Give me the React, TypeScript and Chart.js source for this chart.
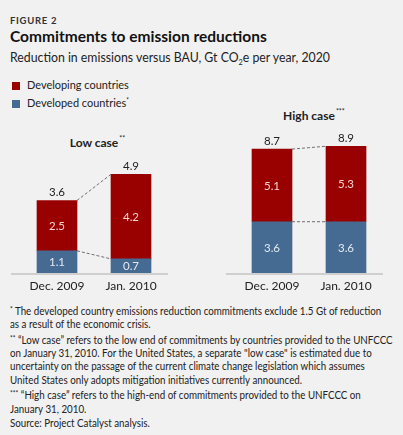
import React, { useEffect, useRef } from 'react';
import { Chart, registerables } from 'chart.js';

Chart.register(...registerables);

// ---- data ----
const categories = ['Dec. 2009', 'Jan. 2010'];
const seriesNames = ['Developed countries', 'Developing countries'];
const lowDeveloped = [1.1, 0.7];
const lowDeveloping = [2.5, 4.2];
const highDeveloped = [3.6, 3.6];
const highDeveloping = [5.1, 5.3];

// ---- style ----
const FONT = 'Lato, "Liberation Sans", sans-serif';
const BG = '#f1f1f1';
const RED = '#990000';
const BLUE = '#466b92';
const INSIDE_COLORS = ['#e2e9f2', '#f5d3d3'];
const TEXT = '#222222';
const LABEL_SIZE = 11.5;

const barDecor = {
  id: 'barDecor',
  beforeDatasetsDraw(chart: any) {
    const { ctx, chartArea } = chart;
    ctx.save();
    ctx.strokeStyle = '#cfcfcf';
    ctx.lineWidth = 2;
    ctx.beginPath();
    ctx.moveTo(0, chartArea.bottom + 1);
    ctx.lineTo(chartArea.right, chartArea.bottom + 1);
    ctx.stroke();
    ctx.restore();
  },
  afterDatasetsDraw(chart: any) {
    const { ctx } = chart;
    const metas = chart.data.datasets.map((_: any, i: number) => chart.getDatasetMeta(i));
    ctx.save();
    ctx.setLineDash([3, 2]);
    ctx.strokeStyle = '#6e6e6e';
    ctx.lineWidth = 1;
    metas.forEach((m: any) => {
      const a = m.data[0];
      const b = m.data[1];
      ctx.beginPath();
      ctx.moveTo(a.x + a.width / 2, a.y);
      ctx.lineTo(b.x - b.width / 2, b.y);
      ctx.stroke();
    });
    ctx.setLineDash([]);
    ctx.font = `${LABEL_SIZE}px ${FONT}`;
    ctx.textAlign = 'center';
    ctx.textBaseline = 'middle';
    metas.forEach((m: any, di: number) => {
      m.data.forEach((el: any, i: number) => {
        const v = chart.data.datasets[di].data[i] as number;
        ctx.fillStyle = INSIDE_COLORS[di];
        ctx.fillText(v.toFixed(1), el.x, (el.y + el.base) / 2 + 0.5);
      });
    });
    const topMeta = metas[metas.length - 1];
    topMeta.data.forEach((el: any, i: number) => {
      const total = chart.data.datasets.reduce((s: number, d: any) => s + (d.data[i] as number), 0);
      ctx.fillStyle = TEXT;
      ctx.fillText(total.toFixed(1), el.x, el.y - 8);
    });
    ctx.restore();
  },
};

function CaseChart({ developed, developing, yMax, left, top }: { developed: number[]; developing: number[]; yMax: number; left: number; top: number }) {
  const ref = useRef<HTMLCanvasElement>(null);
  useEffect(() => {
    const chart = new Chart(ref.current as HTMLCanvasElement, {
      type: 'bar',
      data: {
        labels: categories,
        datasets: [
          { label: seriesNames[0], data: developed, backgroundColor: BLUE, borderWidth: 0 },
          { label: seriesNames[1], data: developing, backgroundColor: RED, borderWidth: 0 },
        ],
      },
      options: {
        responsive: false,
        animation: false,
        events: [],
        layout: { padding: { left: 9, top: 12, right: 0, bottom: 0 } },
        plugins: { legend: { display: false }, tooltip: { enabled: false }, title: { display: false } },
        datasets: { bar: { barThickness: 40 } },
        scales: {
          x: {
            stacked: true,
            grid: { display: false, drawTicks: false },
            border: { display: false },
            ticks: { font: { family: FONT, size: 12 }, color: TEXT, padding: 6 },
            afterFit: (s: any) => {
              s.height = 27;
            },
          },
          y: { stacked: true, display: false, min: 0, max: yMax },
        },
      } as any,
      plugins: [barDecor],
    });
    return () => chart.destroy();
  }, []);
  return (
    <canvas
      ref={ref}
      width={157}
      height={180}
      style={{ position: 'absolute', left, top, width: 157, height: 180 }}
    />
  );
}

function Txt({ x, base, size, weight, color, center, ls, sx = 1, children }: any) {
  const style: React.CSSProperties = {
    position: 'absolute',
    top: base - 0.887 * size,
    left: x,
    fontSize: size,
    lineHeight: `${size}px`,
    whiteSpace: 'nowrap',
    fontWeight: weight ?? 400,
    color: color ?? TEXT,
    letterSpacing: ls,
    transformOrigin: center ? 'center' : 'left',
    transform: `${center ? 'translateX(-50%) ' : ''}scaleX(${sx})`,
  };
  return <div style={style}>{children}</div>;
}

const Star = ({ n, size = 8, raise = 4 }: { n: number; size?: number; raise?: number }) => (
  <span style={{ fontSize: size, position: 'relative', top: -raise }}>{'*'.repeat(n)}</span>
);

const CaseTitle = ({ x, base, text, stars }: { x: number; base: number; text: string; stars: number }) => (
  <Txt x={x} base={base} size={12} weight={700} center>
    <span style={{ position: 'relative' }}>
      {text}
      <span style={{ position: 'absolute', left: '100%', top: -3, fontSize: 7, fontWeight: 400, marginLeft: 1 }}>{'*'.repeat(stars)}</span>
    </span>
  </Txt>
);

export default function App() {
  const fn = 10.5;
  const fsx = 0.93;
  return (
    <div
      style={{
        position: 'absolute',
        left: 0,
        top: 0,
        width: 403,
        height: 435,
        background: BG,
        fontFamily: FONT,
        color: TEXT,
        overflow: 'hidden',
      }}
    >
      <Txt x={10} base={24} size={9.5} weight={700} color="#333" ls="0.7px">FIGURE 2</Txt>
      <Txt x={10} base={43} size={15.5} weight={700} color="#111">Commitments to emission reductions</Txt>
      <Txt x={10} base={63} size={13.5} sx={0.91}>
        Reduction in emissions versus BAU, Gt CO<span style={{ fontSize: 8, position: 'relative', top: 3 }}>2</span>e per year, 2020
      </Txt>

      <div style={{ position: 'absolute', left: 12, top: 82, width: 8, height: 8, background: RED }} />
      <Txt x={27} base={89.5} size={12.3} sx={0.89}>{seriesNames[1]}</Txt>
      <div style={{ position: 'absolute', left: 12, top: 100, width: 8, height: 8, background: BLUE }} />
      <Txt x={27} base={107.5} size={12.3} sx={0.89}>{seriesNames[0]}<Star n={1} size={7} raise={4} /></Txt>

      <CaseTitle x={94} base={148} text="Low case" stars={2} />
      <CaseTitle x={309} base={121} text="High case" stars={3} />

      <CaseChart developed={lowDeveloped} developing={lowDeveloping} yMax={7} left={11} top={120} />
      <CaseChart developed={highDeveloped} developing={highDeveloping} yMax={9.9} left={226} top={120} />

      <Txt x={10} base={315} size={fn} sx={fsx}><Star n={1} size={7} raise={3} /> The developed country emissions reduction commitments exclude 1.5 Gt of reduction</Txt>
      <Txt x={10} base={328} size={fn} sx={fsx}>as a result of the economic crisis.</Txt>
      <Txt x={10} base={344} size={fn} sx={fsx}><Star n={2} size={7} raise={3} /> {'\u201CLow case\u201D'} refers to the low end of commitments by countries provided to the UNFCCC</Txt>
      <Txt x={10} base={357} size={fn} sx={fsx}>on January 31, 2010. For the United States, a separate "low case" is estimated due to</Txt>
      <Txt x={10} base={370} size={fn} sx={fsx}>uncertainty on the passage of the current climate change legislation which assumes</Txt>
      <Txt x={10} base={384} size={fn} sx={fsx}>United States only adopts mitigation initiatives currently announced.</Txt>
      <Txt x={10} base={399} size={fn} sx={fsx}><Star n={3} size={7} raise={3} /> {'\u201CHigh case\u201D'} refers to the high-end of commitments provided to the UNFCCC on</Txt>
      <Txt x={10} base={413} size={fn} sx={fsx}>January 31, 2010.</Txt>
      <Txt x={10} base={427} size={fn} sx={fsx}>Source: Project Catalyst analysis.</Txt>
    </div>
  );
}
